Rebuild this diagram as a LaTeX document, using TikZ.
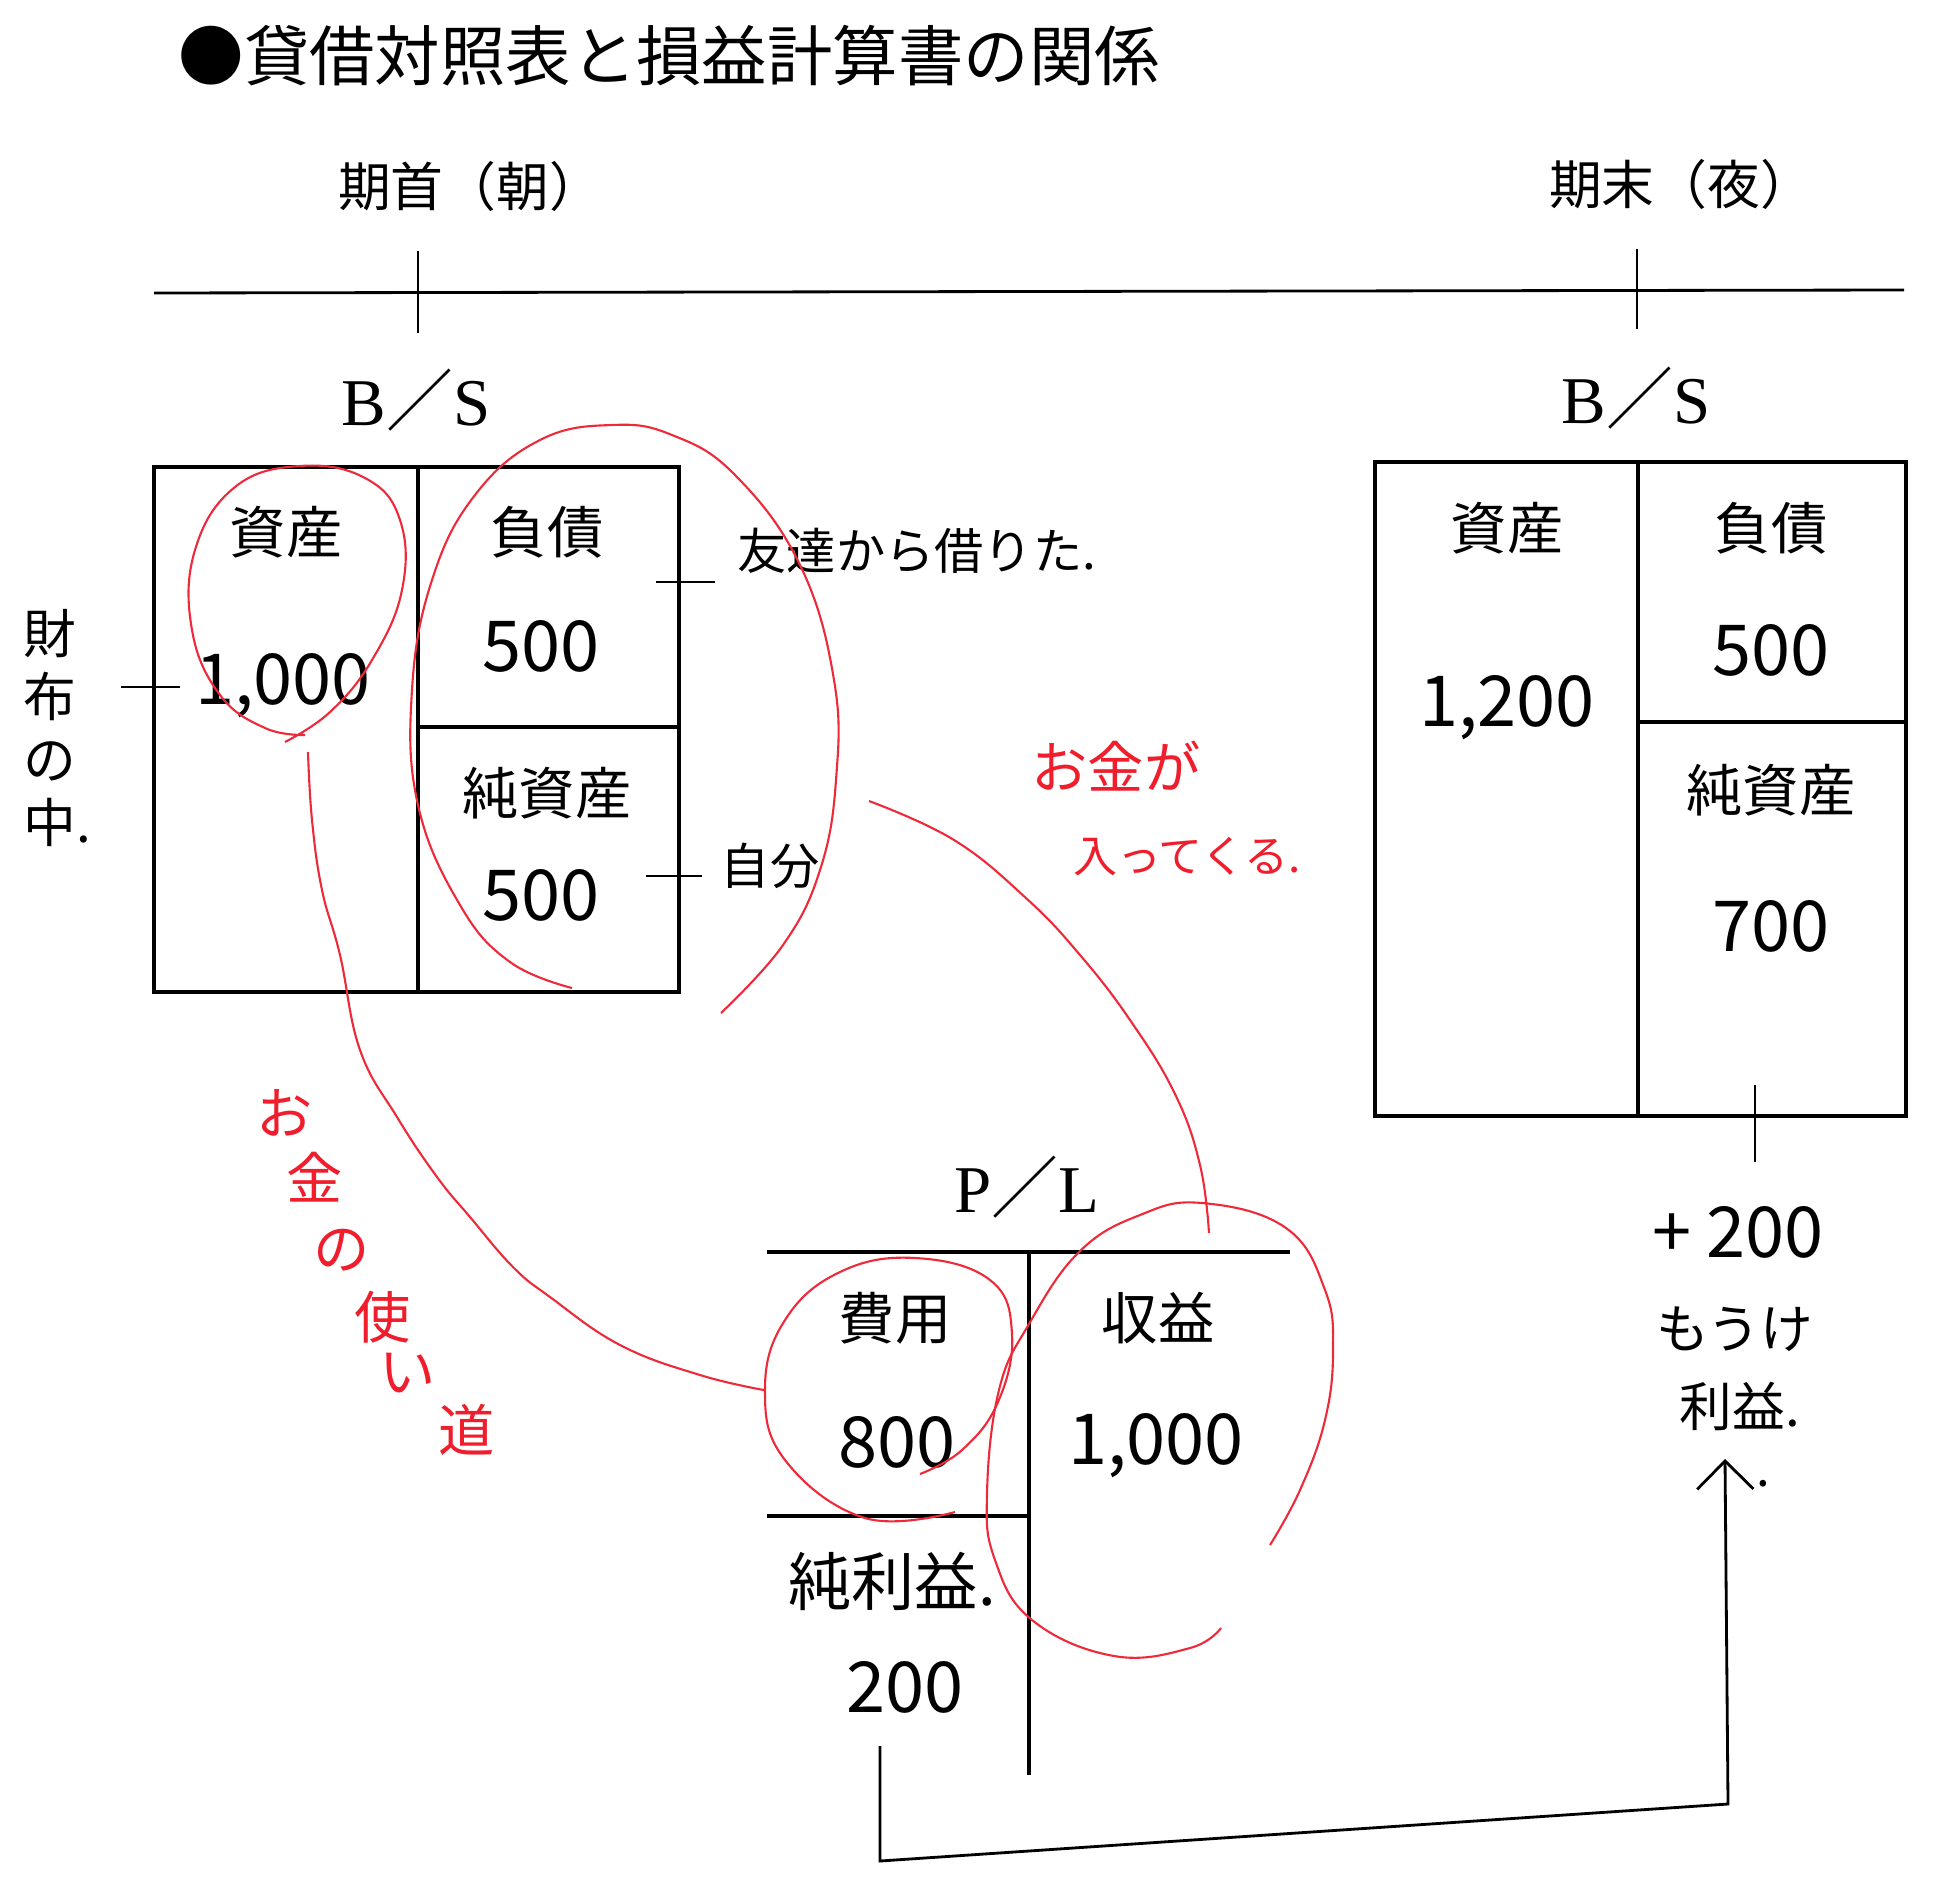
\documentclass[tikz,border=0pt]{standalone}
\usepackage{fontspec}
\setmainfont{Noto Sans CJK JP}
\newfontfamily\enfont{Liberation Serif}
\usetikzlibrary{arrows.meta}
\definecolor{penred}{HTML}{EE2A3A}
\definecolor{inkred}{HTML}{F01E2C}

\begin{document}
\begin{tikzpicture}[x=0.01cm, y=-0.01cm,
  hd/.style={font=\fontsize{15}{18}\selectfont, inner sep=0pt},
  sheet/.style={font=\fontsize{19}{22}\selectfont, inner sep=0pt},
  acct/.style={font=\fontsize{16}{19}\selectfont, inner sep=0pt},
  amt/.style={font=\fontsize{20}{24}\selectfont, inner sep=0pt},
  memo/.style={font=\fontsize{14}{17}\selectfont, inner sep=0pt},
  redmemo/.style={font=\fontsize{16}{19}\selectfont, text=inkred, inner sep=0pt},
  frame/.style={draw=black, line width=0.9pt},
  tie/.style={draw=black, line width=0.8pt},
  pen/.style={draw=penred, line width=0.6pt},
]
\useasboundingbox (0,0) rectangle (1949,1894);
% title
\node[anchor=west, inner sep=0pt, font=\fontsize{18.6}{22}\selectfont] (title) at (178,56) {●貸借対照表と損益計算書の関係};
% time line: start / end of period
\node[hd] (open) at (470,186) {期首（朝）};
\node[hd] (close) at (1681,184) {期末（夜）};
\coordinate (tl0) at (154,293);
\coordinate (tl1) at (1904,290);
\draw[tie] (tl0) -- (tl1);
\draw[tie] (418,251) -- (418,333);
\draw[tie] (1637,249) -- (1637,329);
% opening B/S
\node[sheet] (bsL) at (416,400) {{\enfont B}／{\enfont S}};
\draw[frame] (154,467) rectangle (679,992);
\draw[frame] (418,467) -- (418,992);
\draw[frame] (418,727) -- (679,727);
\node[acct] (asL) at (286,532) {資産};
\node[amt] (asLv) at (283,686) {1,000};
\node[acct] (liL) at (547,532) {負債};
\node[amt] (liLv) at (541,646) {500};
\node[acct] (eqL) at (547,793) {純資産};
\node[amt] (eqLv) at (541,895) {500};
% side notes of opening B/S
\node[align=center, inner sep=0pt, font=\fontsize{15}{17.9}\selectfont] (wallet) at (50,728) {財\\布\\の\\中\rlap{.}};
\coordinate (wd0) at (121,687);
\coordinate (wd1) at (180,687);
\draw[tie] (wd0) -- (wd1);
\node[memo, anchor=west] (friend) at (737,551) {友達から借りた.};
\coordinate (fd0) at (656,582);
\coordinate (fd1) at (715,582);
\draw[tie] (fd0) -- (fd1);
\node[memo] (self) at (770,866) {自分};
\coordinate (sd0) at (646,876);
\coordinate (sd1) at (702,876);
\draw[tie] (sd0) -- (sd1);
% closing B/S
\node[sheet] (bsR) at (1636,398) {{\enfont B}／{\enfont S}};
\draw[frame] (1375,462) rectangle (1906,1116);
\draw[frame] (1638,462) -- (1638,1116);
\draw[frame] (1638,722) -- (1906,722);
\node[acct] (asR) at (1507,528) {資産};
\node[amt] (asRv) at (1507,708) {1,200};
\node[acct] (liR) at (1771,528) {負債};
\node[amt] (liRv) at (1771,650) {500};
\node[acct] (eqR) at (1771,790) {純資産};
\node[amt] (eqRv) at (1771,926) {700};
\draw[tie] (1755,1085) -- (1755,1162);
\node[amt] (gain) at (1738,1232) {+ 200};
\node[memo, font=\fontsize{15}{18}\selectfont] (moke) at (1735,1329) {もうけ};
\node[memo, font=\fontsize{15}{18}\selectfont] (rieki) at (1740,1406) {利益.};
% P/L
\node[sheet] (plT) at (1027,1187) {{\enfont P}／{\enfont L}};
\draw[frame] (767,1252) -- (1290,1252);
\draw[frame] (1029,1252) -- (1029,1775);
\draw[frame] (767,1516) -- (1029,1516);
\node[acct] (exp) at (895,1318) {費用};
\node[amt] (expv) at (897,1442) {800};
\node[acct] (rev) at (1158,1318) {収益};
\node[amt] (revv) at (1156,1446) {1,000};
\node[acct, font=\fontsize{18}{21}\selectfont] (ni) at (892,1581) {純利益.};
\node[amt] (niv) at (905,1687) {200};
% net income carried to closing equity
\coordinate (c0) at (880,1746);
\coordinate (c1) at (880,1861);
\coordinate (c2) at (1728,1804);
\coordinate (c3) at (1725,1459);
\draw[tie, -{Straight Barb[length=8pt, width=16pt, line width=0.8pt]}] (c0) -- (c1) -- (c2) -- (c3);
\node[memo] (dot) at (1763,1484) {.};
% red notes: loops and flows
\draw[pen] plot[smooth, tension=0.7] coordinates {(285,742) (330,712) (372,660) (402,590) (400,520) (365,478) (300,466) (235,487) (195,550) (192,630) (220,695) (265,728) (305,735)};
\draw[pen] plot[smooth, tension=0.7] coordinates {(721,1013) (783,945) (820,870) (836,780) (834,680) (800,565) (735,475) (672,435) (612,425) (540,440) (475,495) (432,580) (412,690) (418,805) (460,905) (510,962) (572,988)};
\draw[pen] plot[smooth, tension=0.7] coordinates {(308,752) (312,820) (322,890) (340,955) (360,1050) (397,1117) (437,1177) (470,1217) (513,1267) (550,1297) (620,1345) (700,1375) (764,1390)};
\draw[pen] plot[smooth, tension=0.7] coordinates {(920,1474) (962,1450) (998,1402) (1012,1334) (990,1280) (915,1258) (840,1272) (785,1320) (765,1389) (785,1460) (865,1518) (955,1512)};
\draw[pen] plot[smooth, tension=0.7] coordinates {(1221,1628) (1190,1648) (1114,1656) (1032,1620) (995,1560) (987,1494) (999,1390) (1029,1324) (1079,1252) (1140,1215) (1202,1203) (1286,1228) (1325,1290) (1333,1350) (1325,1420) (1300,1490) (1270,1545)};
\draw[pen] plot[smooth, tension=0.7] coordinates {(869,801) (954,840) (1027,899) (1080,955) (1130,1020) (1175,1094) (1200,1165) (1209,1233)};
\node[redmemo] (inflow1) at (1116,766) {お金が};
\node[redmemo, font=\fontsize{12.5}{15}\selectfont] (inflow2) at (1187,857) {入ってくる.};
\node[redmemo] (use1) at (285,1113) {お};
\node[redmemo] (use2) at (315,1177) {金};
\node[redmemo] (use3) at (342,1250) {の};
\node[redmemo] (use4) at (383,1317) {使};
\node[redmemo] (use5) at (408,1373) {い};
\node[redmemo] (use6) at (467,1430) {道};
\end{tikzpicture}
\end{document}
